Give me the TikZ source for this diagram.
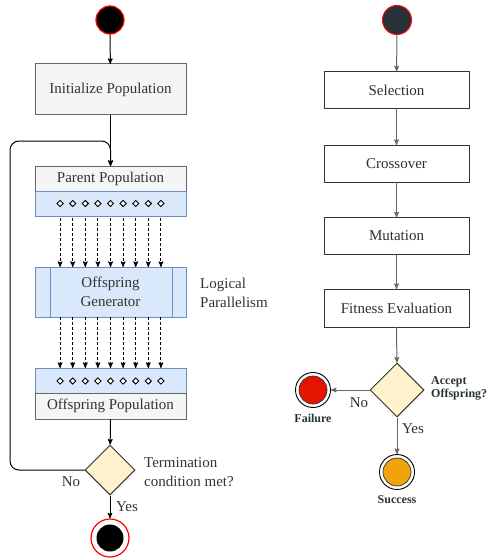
\documentclass[tikz,border=0pt]{standalone}
\usepackage{fontspec}
\setmainfont{Liberation Serif}
\usepackage{tikz}
\usetikzlibrary{arrows}
\usetikzlibrary{calc}
\usetikzlibrary{shapes.geometric}
\definecolor{boxgray}{HTML}{F5F5F5}
\definecolor{linegray}{HTML}{666666}
\definecolor{bandblue}{HTML}{DAE8FC}
\definecolor{bandline}{HTML}{6C8EBF}
\definecolor{decfill}{HTML}{FFF2CC}
\definecolor{slate}{HTML}{263238}
\definecolor{failred}{HTML}{E51400}
\definecolor{succorange}{HTML}{F0A30A}
\definecolor{txt}{HTML}{333333}

\begin{document}
\begin{tikzpicture}[x=1pt,y=-1pt,font=\fontsize{15}{19}\selectfont]

\useasboundingbox (0,0) rectangle (489,559);

\tikzstyle{arrow}=[line width=1pt,-stealth']
\tikzstyle{graybox}=[draw=linegray,fill=boxgray,line width=1pt,minimum width=151pt,inner sep=0pt,outer sep=0pt,text=txt]
\tikzstyle{band}=[draw=bandline,fill=bandblue,line width=1pt,minimum width=151pt,inner sep=0pt,outer sep=0pt]
\tikzstyle{marker}=[diamond,draw,fill=white,line width=0.9pt,minimum size=6.5pt,inner sep=0pt]
\tikzstyle{decision}=[diamond,draw=black!80,fill=decfill,line width=1pt,aspect=1,inner sep=0pt]
\tikzstyle{whitebox}=[draw=black!80,fill=white,line width=1pt,minimum width=145pt,minimum height=37pt,inner sep=0pt,outer sep=0pt,text=slate]
\tikzstyle{boldlabel}=[font=\fontsize{12}{13}\selectfont\bfseries,text=slate,inner sep=0pt]

% LEFT: START
\node [circle,draw=red,fill=black,line width=1.2pt,minimum size=28pt,inner sep=0pt] (start) at (110,20) {};

% INITIALIZE
\node [graybox,minimum height=51pt] (init) at (110.5,89.5) {Initialize Population};

% PARENT POPULATION
\node [graybox,minimum height=25pt] (parent) at (110.5,178.5) {Parent Population};
\node [band,minimum height=25pt,anchor=north] (pband) at (parent.south) {};
\foreach \i in {1,...,9}
  \node [marker] (p\i) at ({110.5+(\i-5)*12.6},203.5) {};

% GENERATOR
\node [band,minimum height=50pt,align=center,text=txt] (gen) at (110.5,292) {Offspring\\Generator};
\draw [draw=bandline,line width=1pt] ([xshift=15pt]gen.north west) -- ([xshift=15pt]gen.south west);
\draw [draw=bandline,line width=1pt] ([xshift=-14pt]gen.north east) -- ([xshift=-14pt]gen.south east);
\node [anchor=west,align=left,inner sep=0pt,text=txt] (logic) at (200,293) {Logical\\Parallelism};

% OFFSPRING POPULATION
\node [band,minimum height=25pt] (oband) at (110.5,380.5) {};
\node [graybox,minimum height=26pt,anchor=north] (offspring) at (oband.south) {Offspring Population};
\foreach \i in {1,...,9}
  \node [marker] (q\i) at ({110.5+(\i-5)*12.6},381) {};

% PARALLEL ARROWS
\foreach \i in {1,...,9} {
  \draw [arrow,dash pattern=on 3pt off 2pt] ([yshift=-2pt]p\i.south |- pband.south) -- (p\i |- gen.north);
  \draw [arrow,dash pattern=on 3pt off 2pt] (q\i |- gen.south) -- (q\i |- oband.north);
}

% TERMINATION
\node [decision,minimum size=50pt] (term) at (110,470) {};
\node [anchor=west,align=left,inner sep=0pt,text=txt] (tlabel) at (144,472) {Termination\\condition met?};

% END
\node [circle,draw=red,fill=white,line width=1.2pt,minimum size=38pt,inner sep=0pt] (stop) at (110,538) {};
\node [circle,fill=black,minimum size=27pt,inner sep=0pt] (stopin) at (stop) {};

% LEFT CONNECTORS
\coordinate (loop) at (10,141);
\draw [arrow] (start) -- (init);
\draw [arrow] (init) -- (parent);
\draw [arrow,rounded corners=9pt] (term.west) -| (loop) -| (parent.north);
\draw [arrow] (offspring) -- (term);
\draw [arrow] (term) -- (stop);
\node [text=txt,inner sep=0pt] (no1) at (71,482) {No};
\node [text=txt,inner sep=0pt] (yes1) at (127,507) {Yes};

% RIGHT: START
\node [circle,draw=red,fill=slate,line width=1pt,minimum size=29pt,inner sep=0pt] (start2) at (397,20) {};

% STEPS
\node [whitebox] (sel) at (396.5,90) {Selection};
\node [whitebox] (cross) at (396.5,163.5) {Crossover};
\node [whitebox] (mut) at (396.5,236) {Mutation};
\node [whitebox,minimum height=38pt] (fit) at (396.5,308) {Fitness Evaluation};

% ACCEPT
\node [decision,minimum size=54pt] (accept) at (397,390) {};
\node [boldlabel,anchor=west,align=left,font=\fontsize{12}{13}\selectfont\bfseries] (alabel) at (431,388.5) {Accept\\Offspring?};

% FAILURE AND SUCCESS
\node [circle,draw=black,fill=white,line width=0.9pt,minimum size=35pt,inner sep=0pt] (fail) at (313,390) {};
\node [circle,draw=black!80,fill=failred,line width=0.7pt,minimum size=28pt,inner sep=0pt] (failin) at (fail) {};
\node [boldlabel] (flabel) at (313,418) {Failure};
\node [circle,draw=black,fill=white,line width=0.9pt,minimum size=35pt,inner sep=0pt] (succ) at (397,472) {};
\node [circle,draw=black!80,fill=succorange,line width=0.7pt,minimum size=28pt,inner sep=0pt] (succin) at (succ) {};
\node [boldlabel] (slabel) at (397,500) {Success};

% RIGHT CONNECTORS
\draw [arrow,draw=linegray] (start2) -- (sel);
\draw [arrow,draw=linegray] (sel) -- (cross);
\draw [arrow,draw=linegray] (cross) -- (mut);
\draw [arrow,draw=linegray] (mut) -- (fit);
\draw [arrow,draw=linegray] (fit) -- (accept);
\draw [arrow,draw=linegray] (accept) -- (fail);
\draw [arrow,draw=linegray] (accept) -- (succ);
\node [text=slate,inner sep=0pt] (no2) at (359,403) {No};
\node [text=slate,inner sep=0pt] (yes2) at (413,429) {Yes};

\end{tikzpicture}
\end{document}
